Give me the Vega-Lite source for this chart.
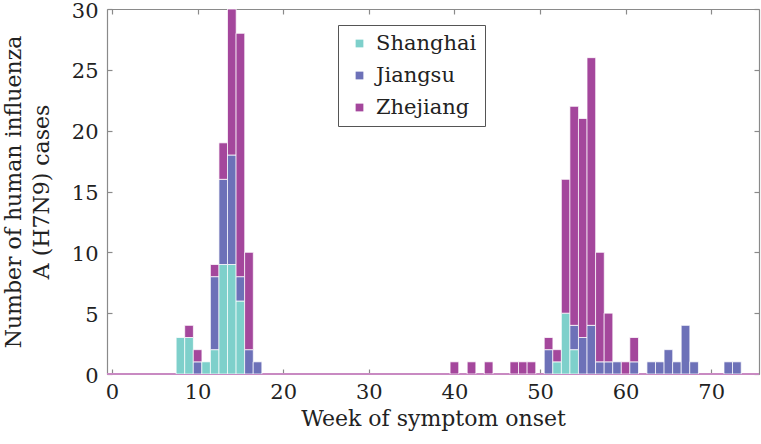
{
  "$schema": "https://vega.github.io/schema/vega-lite/v6.json",
  "width": 652,
  "height": 365,
  "autosize": "none",
  "padding": {"left": 107, "top": 9, "right": 2, "bottom": 70},
  "background": "white",
  "config": {
    "view": {"stroke": null},
    "font": "DejaVu Serif",
    "axis": {
      "grid": false,
      "domainColor": "#8a8a8a",
      "domainWidth": 1.2,
      "tickColor": "#8a8a8a",
      "tickWidth": 1.2,
      "labelFont": "DejaVu Serif",
      "labelFontSize": 21,
      "labelColor": "#222222",
      "titleFont": "DejaVu Serif",
      "titleFontSize": 22,
      "titleFontWeight": "normal",
      "titleColor": "#222222"
    }
  },
  "datasets": {
    "regions": [
      {"region": "Shanghai", "stackorder": 1},
      {"region": "Jiangsu", "stackorder": 2},
      {"region": "Zhejiang", "stackorder": 3}
    ]
  },
  "data": {
    "values": [
      {"week": 8, "region": "Shanghai", "cases": 3},
      {"week": 9, "region": "Shanghai", "cases": 3},
      {"week": 9, "region": "Zhejiang", "cases": 1},
      {"week": 10, "region": "Jiangsu", "cases": 1},
      {"week": 10, "region": "Zhejiang", "cases": 1},
      {"week": 11, "region": "Shanghai", "cases": 1},
      {"week": 12, "region": "Shanghai", "cases": 2},
      {"week": 12, "region": "Jiangsu", "cases": 6},
      {"week": 12, "region": "Zhejiang", "cases": 1},
      {"week": 13, "region": "Shanghai", "cases": 9},
      {"week": 13, "region": "Jiangsu", "cases": 7},
      {"week": 13, "region": "Zhejiang", "cases": 3},
      {"week": 14, "region": "Shanghai", "cases": 9},
      {"week": 14, "region": "Jiangsu", "cases": 9},
      {"week": 14, "region": "Zhejiang", "cases": 12},
      {"week": 15, "region": "Shanghai", "cases": 6},
      {"week": 15, "region": "Jiangsu", "cases": 2},
      {"week": 15, "region": "Zhejiang", "cases": 20},
      {"week": 16, "region": "Jiangsu", "cases": 2},
      {"week": 16, "region": "Zhejiang", "cases": 8},
      {"week": 17, "region": "Jiangsu", "cases": 1},
      {"week": 40, "region": "Zhejiang", "cases": 1},
      {"week": 42, "region": "Zhejiang", "cases": 1},
      {"week": 44, "region": "Zhejiang", "cases": 1},
      {"week": 47, "region": "Zhejiang", "cases": 1},
      {"week": 48, "region": "Zhejiang", "cases": 1},
      {"week": 49, "region": "Zhejiang", "cases": 1},
      {"week": 51, "region": "Jiangsu", "cases": 2},
      {"week": 51, "region": "Zhejiang", "cases": 1},
      {"week": 52, "region": "Shanghai", "cases": 1},
      {"week": 52, "region": "Zhejiang", "cases": 1},
      {"week": 53, "region": "Shanghai", "cases": 5},
      {"week": 53, "region": "Zhejiang", "cases": 11},
      {"week": 54, "region": "Shanghai", "cases": 2},
      {"week": 54, "region": "Jiangsu", "cases": 2},
      {"week": 54, "region": "Zhejiang", "cases": 18},
      {"week": 55, "region": "Jiangsu", "cases": 3},
      {"week": 55, "region": "Zhejiang", "cases": 18},
      {"week": 56, "region": "Jiangsu", "cases": 4},
      {"week": 56, "region": "Zhejiang", "cases": 22},
      {"week": 57, "region": "Jiangsu", "cases": 1},
      {"week": 57, "region": "Zhejiang", "cases": 9},
      {"week": 58, "region": "Jiangsu", "cases": 1},
      {"week": 58, "region": "Zhejiang", "cases": 4},
      {"week": 59, "region": "Jiangsu", "cases": 1},
      {"week": 60, "region": "Zhejiang", "cases": 1},
      {"week": 61, "region": "Jiangsu", "cases": 1},
      {"week": 61, "region": "Zhejiang", "cases": 2},
      {"week": 63, "region": "Jiangsu", "cases": 1},
      {"week": 64, "region": "Jiangsu", "cases": 1},
      {"week": 65, "region": "Jiangsu", "cases": 2},
      {"week": 66, "region": "Jiangsu", "cases": 1},
      {"week": 67, "region": "Jiangsu", "cases": 4},
      {"week": 68, "region": "Jiangsu", "cases": 1},
      {"week": 72, "region": "Jiangsu", "cases": 1},
      {"week": 73, "region": "Jiangsu", "cases": 1}
    ]
  },
  "layer": [
    {
      "mark": {"type": "rule", "color": "#c88ac2", "strokeWidth": 1.3},
      "encoding": {
        "y": {"datum": 0, "type": "quantitative", "scale": {"domain": [0, 30]}, "axis": null}
      }
    },
    {
      "transform": [
        {"lookup": "region", "from": {"data": {"name": "regions"}, "key": "region", "fields": ["stackorder"]}}
      ],
      "mark": {"type": "bar", "size": 8.7, "stroke": "white", "strokeWidth": 1, "strokeOpacity": 0.75, "clip": true},
      "encoding": {
        "x": {
          "field": "week", "type": "quantitative",
          "scale": {"domain": [0, 75], "nice": false, "zero": false},
          "axis": {"orient": "bottom", "values": [0, 10, 20, 30, 40, 50, 60, 70], "tickSize": -5, "labelPadding": 12, "title": "Week of symptom onset", "titlePadding": 6}
        },
        "y": {
          "field": "cases", "type": "quantitative", "stack": "zero",
          "scale": {"domain": [0, 30], "nice": false},
          "axis": {"orient": "left", "values": [0, 5, 10, 15, 20, 25, 30], "tickSize": -5, "labelPadding": 14, "labelOffset": 2, "title": ["Number of human influenza", "A (H7N9) cases"], "titlePadding": 18, "titleLineHeight": 28}
        },
        "order": {"field": "stackorder", "type": "quantitative", "sort": "ascending"},
        "color": {
          "field": "region", "type": "nominal",
          "sort": ["Shanghai", "Jiangsu", "Zhejiang"],
          "scale": {"domain": ["Shanghai", "Jiangsu", "Zhejiang"], "range": ["#7ed0cb", "#6d71b8", "#a4479c"]},
          "legend": {
            "title": null, "orient": "none", "legendX": 231, "legendY": 16,
            "symbolType": "square", "symbolSize": 60, "symbolStrokeWidth": 0, "symbolOpacity": 1, "symbolOffset": 3,
            "labelFont": "DejaVu Serif", "labelFontSize": 21, "labelColor": "#222222",
            "labelOffset": 6, "rowPadding": 10,
            "padding": 8, "strokeColor": "#555555", "fillColor": "white"
          }
        }
      }
    },
    {
      "mark": {"type": "point", "opacity": 0},
      "encoding": {
        "x": {"field": "week", "type": "quantitative", "axis": {"orient": "top", "values": [0, 10, 20, 30, 40, 50, 60, 70], "tickSize": -5, "labels": false, "title": null}},
        "y": {"field": "cases", "type": "quantitative", "axis": {"orient": "right", "values": [0, 5, 10, 15, 20, 25, 30], "tickSize": -5, "labels": false, "title": null}}
      }
    }
  ],
  "resolve": {"axis": {"x": "independent", "y": "independent"}}
}
